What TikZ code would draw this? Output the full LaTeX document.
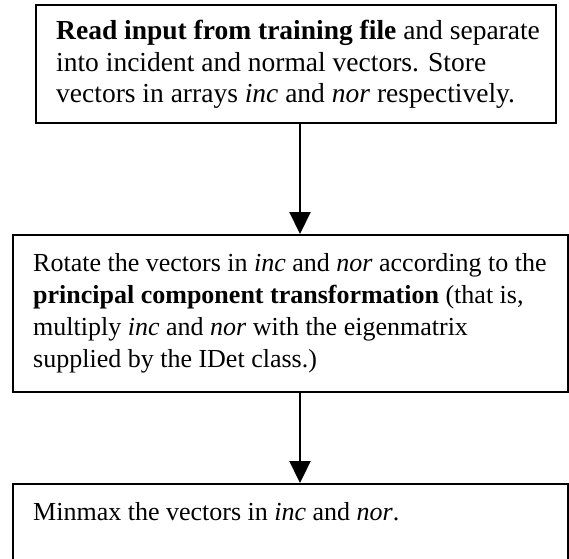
\documentclass[tikz,border=0pt]{standalone}
\usepackage{fontspec}
\setmainfont{Liberation Serif}
\usetikzlibrary{arrows.meta}
\tikzset{
  box/.style={draw=black, line width=2.2pt, rectangle, inner sep=0pt, anchor=north west},
  txt/.style={inner sep=0pt, anchor=north west, align=left, font=\fontsize{26}{32}\selectfont},
  bigtxt/.style={txt, font=\fontsize{27.5}{31.5}\selectfont},
  arr/.style={line width=2.2pt, -{Triangle[length=22pt, width=21pt]}}
}
\begin{document}
\begin{tikzpicture}[x=1pt, y=-1pt]
  \useasboundingbox (0,0) rectangle (569,558);
  \clip (0,0) rectangle (569,558);
  % boxes
  \node[box, minimum width=520pt, minimum height=118pt] (b1) at (35,4) {};
  \node[box, minimum width=555pt, minimum height=157pt] (b2) at (12,234) {};
  \node[box, minimum width=555pt, minimum height=100pt] (b3) at (12,483) {};
  % texts
  \node[bigtxt] (t1) at (56,20) {\textbf{Read input from training file} and separate\\
    into incident and normal vectors. Store\\
    vectors in arrays \textit{inc} and \textit{nor} respectively.};
  \node[txt] (t2) at (33,253) {Rotate the vectors in \textit{inc} and \textit{nor} according to the\\
    \textbf{principal component transformation} (that is,\\
    multiply \textit{inc} and \textit{nor} with the eigenmatrix\\
    supplied by the IDet class.)};
  \node[txt] (t3) at (33,502) {Minmax the vectors in \textit{inc} and \textit{nor}.};
  % connectors
  \coordinate (ax) at (300,0);
  \draw[arr] (b1.south -| ax) -- (b2.north -| ax);
  \draw[arr] (b2.south -| ax) -- (b3.north -| ax);
\end{tikzpicture}
\end{document}
